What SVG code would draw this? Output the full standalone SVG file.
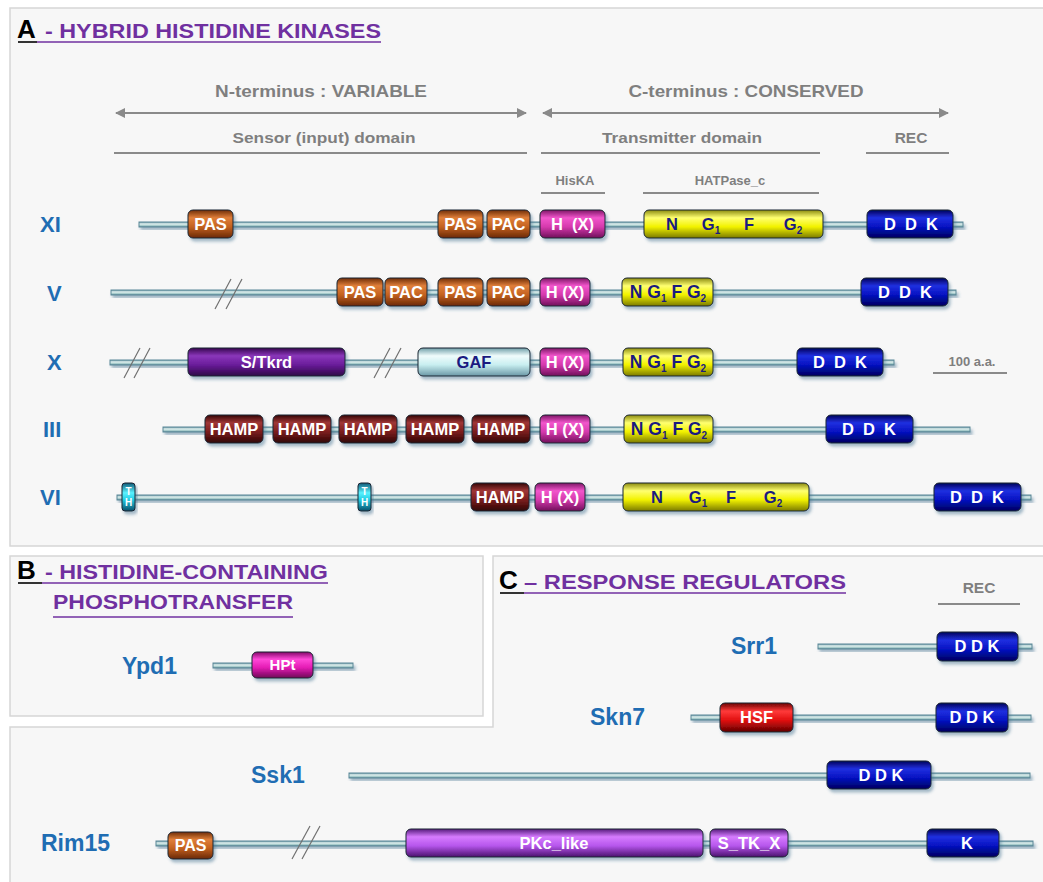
<svg xmlns="http://www.w3.org/2000/svg" width="1043" height="882" viewBox="0 0 1043 882">
<style>
  .panel{fill:#f7f7f7;stroke:#d6d6d6;stroke-width:1.5}
  .ttlK{font-family:"Liberation Sans",Arial,sans-serif;font-weight:bold;fill:#000;font-size:26px}
  .ttlP{font-family:"Liberation Sans",Arial,sans-serif;font-weight:bold;fill:#7030a0;font-size:20px}
  .gray{font-family:"Liberation Sans",Arial,sans-serif;font-weight:bold;fill:#7f7f7f;text-anchor:middle}
  .gline{stroke:#8a8a8a;stroke-width:2;fill:none}
  .name{font-family:"Liberation Sans",Arial,sans-serif;font-weight:bold;fill:#1f6db3;font-size:22px}
  .name2{font-family:"Liberation Sans",Arial,sans-serif;font-weight:bold;fill:#1f6db3;font-size:23px}
  .bb{fill:url(#gBB);stroke:#5a8797;stroke-width:1;filter:url(#sh)}
  .box{stroke:#1c2430;stroke-width:1;filter:url(#sh)}
  .lb{font-family:"Liberation Sans",Arial,sans-serif;font-weight:bold;font-size:16.5px;fill:#fff;text-anchor:middle}
  .lbn{font-family:"Liberation Sans",Arial,sans-serif;font-weight:bold;font-size:16.5px;fill:#1a1a80;text-anchor:middle}
  .lbc{font-family:"Liberation Sans",Arial,sans-serif;font-weight:bold;font-size:17.5px;fill:#1a1a80;text-anchor:middle}
  .sub{font-size:10px}
  .slash{stroke:#707070;stroke-width:1.2}
</style>
<defs>
  <filter id="sh" x="-10%" y="-30%" width="130%" height="180%">
    <feDropShadow dx="2" dy="3" stdDeviation="1.6" flood-color="#3d6a8c" flood-opacity="0.45"/>
  </filter>
  <marker id="ah" viewBox="0 0 10 10" refX="9" refY="5" markerWidth="5" markerHeight="5" orient="auto-start-reverse">
    <path d="M0,0 L10,5 L0,10 z" fill="#8a8a8a"/>
  </marker>
  <linearGradient id="gBB" x1="0" y1="0" x2="0" y2="1"><stop offset="0" stop-color="#6d9aa6"/><stop offset="0.4" stop-color="#e0f0ef"/><stop offset="0.7" stop-color="#a8cccc"/><stop offset="1" stop-color="#5f8d9b"/></linearGradient>
  <linearGradient id="gPAS" x1="0" y1="0" x2="0" y2="1"><stop offset="0" stop-color="#6e2c08"/><stop offset="0.28" stop-color="#e07f3a"/><stop offset="0.6" stop-color="#c4621f"/><stop offset="1" stop-color="#6a2808"/></linearGradient>
  <linearGradient id="gH" x1="0" y1="0" x2="0" y2="1"><stop offset="0" stop-color="#7e1466"/><stop offset="0.28" stop-color="#f256cc"/><stop offset="0.6" stop-color="#d63aad"/><stop offset="1" stop-color="#70105a"/></linearGradient>
  <linearGradient id="gY" x1="0" y1="0" x2="0" y2="1"><stop offset="0" stop-color="#8a8a10"/><stop offset="0.28" stop-color="#ffff70"/><stop offset="0.6" stop-color="#f2f200"/><stop offset="1" stop-color="#7a7a00"/></linearGradient>
  <linearGradient id="gD" x1="0" y1="0" x2="0" y2="1"><stop offset="0" stop-color="#00005a"/><stop offset="0.28" stop-color="#2030e0"/><stop offset="0.6" stop-color="#0612c2"/><stop offset="1" stop-color="#00005e"/></linearGradient>
  <linearGradient id="gS" x1="0" y1="0" x2="0" y2="1"><stop offset="0" stop-color="#36084f"/><stop offset="0.28" stop-color="#8a36ba"/><stop offset="0.6" stop-color="#6a1c9a"/><stop offset="1" stop-color="#2e0646"/></linearGradient>
  <linearGradient id="gGAF" x1="0" y1="0" x2="0" y2="1"><stop offset="0" stop-color="#6e9ea8"/><stop offset="0.28" stop-color="#f0fcfc"/><stop offset="0.6" stop-color="#c8eef0"/><stop offset="1" stop-color="#6a98a6"/></linearGradient>
  <linearGradient id="gHAMP" x1="0" y1="0" x2="0" y2="1"><stop offset="0" stop-color="#360606"/><stop offset="0.28" stop-color="#a03636"/><stop offset="0.6" stop-color="#7c1e1e"/><stop offset="1" stop-color="#2e0404"/></linearGradient>
  <linearGradient id="gTM" x1="0" y1="0" x2="0" y2="1"><stop offset="0" stop-color="#0f5a78"/><stop offset="0.35" stop-color="#5af2ff"/><stop offset="0.6" stop-color="#22cde4"/><stop offset="1" stop-color="#0a4e6a"/></linearGradient>
  <linearGradient id="gHSF" x1="0" y1="0" x2="0" y2="1"><stop offset="0" stop-color="#6a0000"/><stop offset="0.28" stop-color="#ff3a3a"/><stop offset="0.6" stop-color="#e01010"/><stop offset="1" stop-color="#5e0000"/></linearGradient>
  <linearGradient id="gPK" x1="0" y1="0" x2="0" y2="1"><stop offset="0" stop-color="#561a7c"/><stop offset="0.28" stop-color="#d67cff"/><stop offset="0.6" stop-color="#b656ec"/><stop offset="1" stop-color="#4a106c"/></linearGradient>
  <linearGradient id="gHPt" x1="0" y1="0" x2="0" y2="1"><stop offset="0" stop-color="#820868"/><stop offset="0.28" stop-color="#ff48d8"/><stop offset="0.6" stop-color="#e41cb4"/><stop offset="1" stop-color="#6e0456"/></linearGradient>
</defs>

<rect width="1043" height="882" fill="#ffffff"/>

<!-- panels -->
<g id="panels">
  <rect class="panel" x="10" y="8" width="1040" height="538"/>
  <rect class="panel" x="10" y="556" width="473" height="160"/>
  <path class="panel" d="M493,556 H1050 V890 H10 V727 H493 Z"/>
</g>

<!-- titles -->
<g id="titles">
  <text class="ttlK" x="17" y="38">A</text>
  <text class="ttlP" x="45" y="38" textLength="336" lengthAdjust="spacingAndGlyphs">- HYBRID HISTIDINE KINASES</text>
  <line x1="18" y1="42" x2="37" y2="42" stroke="#000" stroke-width="1.6"/>
  <line x1="37" y1="42" x2="381" y2="42" stroke="#7030a0" stroke-width="1.6"/>

  <text class="ttlK" x="17" y="579">B</text>
  <text class="ttlP" x="45" y="579" textLength="283" lengthAdjust="spacingAndGlyphs">- HISTIDINE-CONTAINING</text>
  <line x1="18" y1="583" x2="42" y2="583" stroke="#000" stroke-width="1.6"/>
  <line x1="42" y1="583" x2="328" y2="583" stroke="#7030a0" stroke-width="1.6"/>
  <text class="ttlP" x="53" y="609" textLength="240" lengthAdjust="spacingAndGlyphs">PHOSPHOTRANSFER</text>
  <line x1="53" y1="617" x2="293" y2="617" stroke="#7030a0" stroke-width="1.6"/>

  <text class="ttlK" x="499" y="589">C</text>
  <text class="ttlP" x="524" y="589" textLength="322" lengthAdjust="spacingAndGlyphs">– RESPONSE REGULATORS</text>
  <line x1="500" y1="593" x2="524" y2="593" stroke="#000" stroke-width="1.6"/>
  <line x1="524" y1="593" x2="846" y2="593" stroke="#7030a0" stroke-width="1.6"/>
</g>

<!-- domain annotations -->
<g id="connectors">
  <line class="gline" x1="116" y1="113" x2="526" y2="113" marker-start="url(#ah)" marker-end="url(#ah)"/>
  <line class="gline" x1="543" y1="113" x2="948" y2="113" marker-start="url(#ah)" marker-end="url(#ah)"/>
  <line class="gline" x1="114" y1="153" x2="527" y2="153"/>
  <line class="gline" x1="541" y1="153" x2="820" y2="153"/>
  <line class="gline" x1="866" y1="153" x2="949" y2="153"/>
  <line class="gline" x1="541" y1="193" x2="605" y2="193"/>
  <line class="gline" x1="643" y1="193" x2="819" y2="193"/>
  <line class="gline" x1="933" y1="373" x2="1007" y2="373"/>
  <line class="gline" x1="938" y1="604" x2="1020" y2="604"/>
</g>
<g id="annotations">
  <text class="gray" x="321" y="97" font-size="17" textLength="212" lengthAdjust="spacingAndGlyphs">N-terminus : VARIABLE</text>
  <text class="gray" x="746" y="97" font-size="17" textLength="235" lengthAdjust="spacingAndGlyphs">C-terminus : CONSERVED</text>
  <text class="gray" x="324" y="143" font-size="15" textLength="183" lengthAdjust="spacingAndGlyphs">Sensor (input) domain</text>
  <text class="gray" x="682" y="143" font-size="15" textLength="160" lengthAdjust="spacingAndGlyphs">Transmitter domain</text>
  <text class="gray" x="911" y="143" font-size="15.5">REC</text>
  <text class="gray" x="575" y="185" font-size="13">HisKA</text>
  <text class="gray" x="730" y="185" font-size="13">HATPase_c</text>
  <text class="gray" x="972" y="366" font-size="13">100 a.a.</text>
  <text class="gray" x="979" y="593" font-size="15.5">REC</text>
</g>

<!-- XI -->
<g id="XI">
  <text class="name" x="40" y="232">XI</text>
  <rect class="bb" x="139" y="222" width="824" height="5"/>
  <rect class="box" x="188" y="210" width="45" height="28" rx="5" fill="url(#gPAS)"/><text class="lb" x="210.5" y="230">PAS</text>
  <rect class="box" x="438" y="210" width="45" height="28" rx="5" fill="url(#gPAS)"/><text class="lb" x="460.5" y="230">PAS</text>
  <rect class="box" x="487" y="210" width="43" height="28" rx="5" fill="url(#gPAS)"/><text class="lb" x="508.5" y="230">PAC</text>
  <rect class="box" x="540" y="210" width="65" height="28" rx="5" fill="url(#gH)"/><text class="lb" x="572.5" y="230" xml:space="preserve">H  (X)</text>
  <rect class="box" x="644" y="210" width="179" height="28" rx="5" fill="url(#gY)"/>
  <text class="lbn" x="672" y="230">N</text>
  <text class="lbn" x="711" y="230">G<tspan class="sub" dy="4">1</tspan></text>
  <text class="lbn" x="749" y="230">F</text>
  <text class="lbn" x="793" y="230">G<tspan class="sub" dy="4">2</tspan></text>
  <rect class="box" x="867" y="210" width="86" height="28" rx="5" fill="url(#gD)"/><text class="lb" x="911" y="230" xml:space="preserve">D  D  K</text>
</g>

<!-- V -->
<g id="V">
  <text class="name" x="47" y="301">V</text>
  <rect class="bb" x="111" y="290" width="845" height="5"/>
  <line class="slash" x1="215" y1="309" x2="231" y2="279"/>
  <line class="slash" x1="226" y1="309" x2="242" y2="279"/>
  <rect class="box" x="337" y="278" width="46" height="28" rx="5" fill="url(#gPAS)"/><text class="lb" x="360" y="298">PAS</text>
  <rect class="box" x="385" y="278" width="42" height="28" rx="5" fill="url(#gPAS)"/><text class="lb" x="406" y="298">PAC</text>
  <rect class="box" x="438" y="278" width="45" height="28" rx="5" fill="url(#gPAS)"/><text class="lb" x="460.5" y="298">PAS</text>
  <rect class="box" x="487" y="278" width="43" height="28" rx="5" fill="url(#gPAS)"/><text class="lb" x="508.5" y="298">PAC</text>
  <rect class="box" x="540" y="278" width="50" height="28" rx="5" fill="url(#gH)"/><text class="lb" x="565" y="298">H (X)</text>
  <rect class="box" x="622" y="278" width="91" height="28" rx="5" fill="url(#gY)"/>
  <text class="lbc" x="668" y="298">N G<tspan class="sub" dy="4">1</tspan><tspan dy="-4"> F G</tspan><tspan class="sub" dy="4">2</tspan></text>
  <rect class="box" x="861" y="278" width="87" height="28" rx="5" fill="url(#gD)"/><text class="lb" x="905" y="298" xml:space="preserve">D  D  K</text>
</g>

<!-- X -->
<g id="X">
  <text class="name" x="47" y="370">X</text>
  <rect class="bb" x="110" y="360" width="784" height="5"/>
  <line class="slash" x1="124" y1="378" x2="140" y2="348"/>
  <line class="slash" x1="134" y1="378" x2="150" y2="348"/>
  <rect class="box" x="188" y="348" width="157" height="28" rx="5" fill="url(#gS)"/><text class="lb" x="266.5" y="368">S/Tkrd</text>
  <line class="slash" x1="374" y1="378" x2="390" y2="348"/>
  <line class="slash" x1="385" y1="378" x2="401" y2="348"/>
  <rect class="box" x="418" y="348" width="112" height="28" rx="5" fill="url(#gGAF)"/><text class="lbn" x="474" y="368">GAF</text>
  <rect class="box" x="540" y="348" width="50" height="28" rx="5" fill="url(#gH)"/><text class="lb" x="565" y="368">H (X)</text>
  <rect class="box" x="623" y="348" width="90" height="28" rx="5" fill="url(#gY)"/>
  <text class="lbc" x="668" y="368">N G<tspan class="sub" dy="4">1</tspan><tspan dy="-4"> F G</tspan><tspan class="sub" dy="4">2</tspan></text>
  <rect class="box" x="797" y="348" width="86" height="28" rx="5" fill="url(#gD)"/><text class="lb" x="840" y="368" xml:space="preserve">D  D  K</text>
</g>

<!-- III -->
<g id="III">
  <text class="name" x="43" y="437">III</text>
  <rect class="bb" x="163" y="427" width="807" height="5"/>
  <rect class="box" x="205" y="415" width="58" height="28" rx="5" fill="url(#gHAMP)"/><text class="lb" x="234" y="435">HAMP</text>
  <rect class="box" x="273" y="415" width="58" height="28" rx="5" fill="url(#gHAMP)"/><text class="lb" x="302" y="435">HAMP</text>
  <rect class="box" x="339" y="415" width="58" height="28" rx="5" fill="url(#gHAMP)"/><text class="lb" x="368" y="435">HAMP</text>
  <rect class="box" x="406" y="415" width="58" height="28" rx="5" fill="url(#gHAMP)"/><text class="lb" x="435" y="435">HAMP</text>
  <rect class="box" x="472" y="415" width="58" height="28" rx="5" fill="url(#gHAMP)"/><text class="lb" x="501" y="435">HAMP</text>
  <rect class="box" x="540" y="415" width="50" height="28" rx="5" fill="url(#gH)"/><text class="lb" x="565" y="435">H (X)</text>
  <rect class="box" x="624" y="415" width="89" height="28" rx="5" fill="url(#gY)"/>
  <text class="lbc" x="669" y="435">N G<tspan class="sub" dy="4">1</tspan><tspan dy="-4"> F G</tspan><tspan class="sub" dy="4">2</tspan></text>
  <rect class="box" x="826" y="415" width="87" height="28" rx="5" fill="url(#gD)"/><text class="lb" x="869" y="435" xml:space="preserve">D  D  K</text>
</g>

<!-- VI -->
<g id="VI">
  <text class="name" x="40" y="505">VI</text>
  <rect class="bb" x="117" y="495" width="914" height="5"/>
  <rect class="box" x="122" y="483" width="13" height="28" rx="3" fill="url(#gTM)"/>
  <text class="lb" style="font-size:10px" x="128.5" y="495">T</text><text class="lb" style="font-size:10px" x="128.5" y="506">H</text>
  <rect class="box" x="358" y="483" width="13" height="28" rx="3" fill="url(#gTM)"/>
  <text class="lb" style="font-size:10px" x="364.5" y="495">T</text><text class="lb" style="font-size:10px" x="364.5" y="506">H</text>
  <rect class="box" x="471" y="483" width="58" height="28" rx="5" fill="url(#gHAMP)"/><text class="lb" x="500" y="503">HAMP</text>
  <rect class="box" x="535" y="483" width="50" height="28" rx="5" fill="url(#gH)"/><text class="lb" x="560" y="503">H (X)</text>
  <rect class="box" x="623" y="483" width="186" height="28" rx="5" fill="url(#gY)"/>
  <text class="lbn" x="657" y="503">N</text>
  <text class="lbn" x="698" y="503">G<tspan class="sub" dy="4">1</tspan></text>
  <text class="lbn" x="731" y="503">F</text>
  <text class="lbn" x="773" y="503">G<tspan class="sub" dy="4">2</tspan></text>
  <rect class="box" x="934" y="483" width="87" height="28" rx="5" fill="url(#gD)"/><text class="lb" x="977" y="503" xml:space="preserve">D  D  K</text>
</g>

<!-- Ypd1 -->
<g id="Ypd1">
  <text class="name2" x="122" y="674">Ypd1</text>
  <rect class="bb" x="213" y="663" width="140" height="5"/>
  <rect class="box" x="252" y="652" width="61" height="26" rx="5" fill="url(#gHPt)"/><text class="lb" style="font-size:15px" x="282.5" y="670">HPt</text>
</g>

<!-- Srr1 -->
<g id="Srr1">
  <text class="name2" x="731" y="654">Srr1</text>
  <rect class="bb" x="818" y="644" width="214" height="5"/>
  <rect class="box" x="937" y="632" width="81" height="29" rx="5" fill="url(#gD)"/><text class="lb" x="977" y="652">D D K</text>
</g>

<!-- Skn7 -->
<g id="Skn7">
  <text class="name2" x="590" y="725">Skn7</text>
  <rect class="bb" x="691" y="715" width="340" height="5"/>
  <rect class="box" x="720" y="703" width="73" height="29" rx="5" fill="url(#gHSF)"/><text class="lb" style="font-size:16.5px" x="756.5" y="723">HSF</text>
  <rect class="box" x="936" y="703" width="72" height="29" rx="5" fill="url(#gD)"/><text class="lb" x="972" y="723">D D K</text>
</g>

<!-- Ssk1 -->
<g id="Ssk1">
  <text class="name2" x="251" y="783">Ssk1</text>
  <rect class="bb" x="349" y="773" width="681" height="5"/>
  <rect class="box" x="827" y="761" width="104" height="28" rx="5" fill="url(#gD)"/><text class="lb" x="881" y="781">D D K</text>
</g>

<!-- Rim15 -->
<g id="Rim15">
  <text class="name2" x="41" y="851">Rim15</text>
  <rect class="bb" x="156" y="841" width="877" height="5"/>
  <rect class="box" x="168" y="832" width="45" height="27" rx="5" fill="url(#gPAS)"/><text class="lb" style="font-size:16px" x="190.5" y="851">PAS</text>
  <line class="slash" x1="292" y1="859" x2="310" y2="826"/>
  <line class="slash" x1="302" y1="859" x2="320" y2="826"/>
  <rect class="box" x="406" y="829" width="297" height="28" rx="5" fill="url(#gPK)"/><text class="lb" x="554" y="849">PKc_like</text>
  <rect class="box" x="710" y="829" width="78" height="28" rx="5" fill="url(#gPK)"/><text class="lb" x="749" y="849">S_TK_X</text>
  <rect class="box" x="927" y="829" width="72" height="28" rx="5" fill="url(#gD)"/><text class="lb" x="967" y="849">K</text>
</g>
</svg>
